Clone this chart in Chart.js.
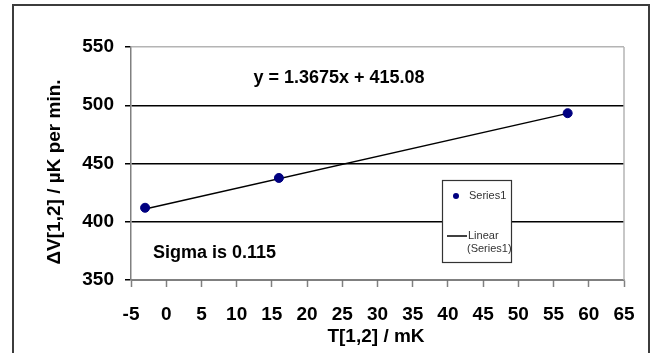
<!DOCTYPE html>
<html>
<head>
<meta charset="utf-8">
<script src="https://cdn.jsdelivr.net/npm/chart.js@4.4.1/dist/chart.umd.min.js"></script>
<style>
  html, body { margin: 0; padding: 0; background: #fff; overflow: hidden; }
  #wrap { width: 653px; height: 353px; position: relative; }
  canvas { display: block; }
</style>
</head>
<body>
<div id="wrap"><canvas id="chart" width="653" height="353"></canvas></div>
<script>
// Measured points: temperature difference vs. drift rate
const tempValues = [-3, 16, 57];
const rateValues = [412, 437.6, 493.2];

// Linear fit reported on the chart
const fitSlope = 1.3675;
const fitIntercept = 415.08;
const sigmaValue = 0.115;

// Axis ticks
const xTicks = [-5, 0, 5, 10, 15, 20, 25, 30, 35, 40, 45, 50, 55, 60, 65];
const yTicks = [350, 400, 450, 500, 550];

const seriesName = 'Series1';
const fitName = 'Linear (Series1)';
const xTitle = 'T[1,2] / mK';
const yTitle = '\u0394V[1,2] / \u00b5K per min.';

const FONT = "'Liberation Sans', Arial, Helvetica, sans-serif";

const measured = tempValues.map((x, i) => ({ x: x, y: rateValues[i] }));
const fitEnds = [tempValues[0], tempValues[tempValues.length - 1]];
const fitLine = fitEnds.map(x => ({ x: x, y: fitSlope * x + fitIntercept }));

const decor = {
  id: 'decor',
  beforeDraw(chart) {
    const c = chart.ctx;
    c.save();
    c.fillStyle = '#fff';
    c.fillRect(0, 0, chart.width, chart.height);
    c.restore();
  },
  afterDraw(chart) {
    const c = chart.ctx;
    const a = chart.chartArea;
    c.save();

    // plot area frame on the right
    c.strokeStyle = '#b4b4b4';
    c.lineWidth = 1.5;
    c.beginPath();
    c.moveTo(a.right, a.top);
    c.lineTo(a.right, a.bottom);
    c.stroke();

    // outer chart frame
    c.strokeStyle = '#3c3c3c';
    c.lineWidth = 2;
    c.strokeRect(13, 5, 636, 420);

    // fit equation and sigma
    c.fillStyle = '#000';
    c.font = 'bold 18px ' + FONT;
    c.textBaseline = 'middle';
    c.textAlign = 'center';
    c.fillText('y = ' + fitSlope + 'x + ' + fitIntercept.toFixed(2), 339, 78);
    c.textAlign = 'left';
    c.fillText('Sigma is ' + sigmaValue, 153, 253);

    // axis titles
    c.font = 'bold 19px ' + FONT;
    c.textAlign = 'center';
    c.fillText(xTitle, 376, 337);
    c.save();
    c.translate(55, 172);
    c.rotate(-Math.PI / 2);
    c.fillText(yTitle, 0, 0);
    c.restore();

    // legend box
    const lx = 442, ly = 180, lw = 69, lh = 82;
    c.fillStyle = '#fff';
    c.fillRect(lx, ly, lw, lh);
    c.strokeStyle = '#333';
    c.lineWidth = 1.2;
    c.strokeRect(lx + 0.5, ly + 0.5, lw, lh);

    c.fillStyle = '#000080';
    c.beginPath();
    c.arc(456, 196, 3, 0, Math.PI * 2);
    c.fill();

    c.strokeStyle = '#000';
    c.lineWidth = 1.5;
    c.beginPath();
    c.moveTo(447, 236);
    c.lineTo(467, 236);
    c.stroke();

    c.fillStyle = '#333';
    c.font = '11px ' + FONT;
    c.textAlign = 'left';
    c.textBaseline = 'middle';
    c.fillText(seriesName, 469, 196);
    const parts = fitName.split(' ');
    c.fillText(parts[0], 468, 236);
    c.fillText(parts[1], 467, 249);

    c.restore();
  }
};

new Chart(document.getElementById('chart'), {
  type: 'scatter',
  data: {
    datasets: [
      {
        label: seriesName,
        data: measured,
        showLine: false,
        pointRadius: 4.5,
        pointHoverRadius: 4.5,
        pointBackgroundColor: '#000080',
        pointBorderColor: '#000080',
        order: 0
      },
      {
        label: fitName,
        data: fitLine,
        showLine: true,
        borderColor: '#000',
        borderWidth: 1.5,
        pointRadius: 0,
        fill: false,
        order: 1
      }
    ]
  },
  options: {
    responsive: false,
    animation: false,
    devicePixelRatio: 1,
    layout: { padding: { left: 0, top: 47, right: 29, bottom: 0 } },
    plugins: {
      legend: { display: false },
      tooltip: { enabled: false },
      title: { display: false }
    },
    scales: {
      x: {
        type: 'linear',
        min: xTicks[0],
        max: xTicks[xTicks.length - 1],
        afterBuildTicks(scale) { scale.ticks = xTicks.map(v => ({ value: v })); },
        afterFit(scale) { scale.height = 73; },
        border: { display: true, color: '#808080', width: 1.5 },
        grid: {
          drawOnChartArea: false,
          drawTicks: true,
          tickLength: 7,
          tickColor: '#808080',
          tickWidth: 1.5
        },
        ticks: {
          color: '#000',
          padding: 16,
          maxRotation: 0,
          autoSkip: false,
          font: { family: FONT, size: 19, weight: 'bold' }
        }
      },
      y: {
        type: 'linear',
        min: yTicks[0],
        max: yTicks[yTicks.length - 1],
        afterBuildTicks(scale) { scale.ticks = yTicks.map(v => ({ value: v })); },
        afterFit(scale) { scale.width = 131; },
        border: { display: true, color: '#808080', width: 1.5 },
        grid: {
          color: ctx => (ctx.tick && ctx.tick.value === yTicks[yTicks.length - 1]) ? '#b4b4b4' : '#000',
          lineWidth: 1.5,
          drawTicks: true,
          tickLength: 6,
          tickColor: '#000'
        },
        ticks: {
          color: '#000',
          padding: 11,
          autoSkip: false,
          font: { family: FONT, size: 19, weight: 'bold' }
        }
      }
    }
  },
  plugins: [decor]
});
</script>
</body>
</html>
